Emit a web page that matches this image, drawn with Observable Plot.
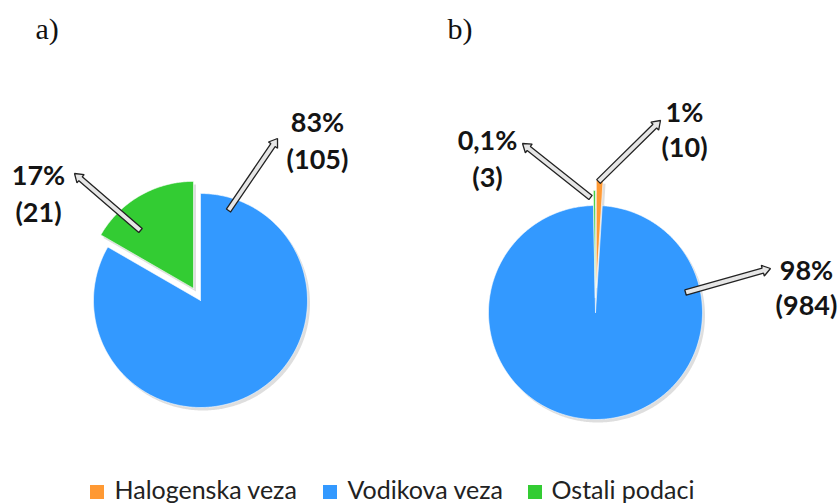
<!DOCTYPE html>
<html>
<head>
<meta charset="utf-8">
<script src="https://cdn.jsdelivr.net/npm/d3@7"></script>
<script src="https://cdn.jsdelivr.net/npm/@observablehq/plot@0.6"></script>
<style>
  html, body { margin: 0; padding: 0; background: #fff; }
  #chart svg { display: block; }
</style>
</head>
<body>
<div id="chart"></div>
<script>
// ---- data ----
const categories = ["Halogenska veza", "Vodikova veza", "Ostali podaci"];
const colors = ["#FF9933", "#3399FF", "#33CC33"];
const panels = ["a)", "b)"];
const countsA = [0, 105, 21];
const countsB = [10, 984, 3];
const pctA = ["", "83%", "17%"];
const pctB = ["1%", "98%", "0,1%"];

// ---- layout (pixels) ----
const W = 840, H = 503;
const R = 107;
const centers = [[200, 300], [595, 312]];
const explode = [[0, 0, 14], [25, 0, 15]];
const titlePos = [[35, 29], [447, 29]];
// label layout per slice: [x, yPct]
const labelPos = [
  [null, [317, 123], [38, 176]],
  [[684, 113], [806, 271], [487, 141]]
];
const countDy = [[0, 37, 37], [35, 35, 37]];
// arrows per slice: [tail, head]
const arrowPos = [
  [null, [[228, 210], [277, 138]], [[140, 230], [74, 173]]],
  [[[598, 181], [660, 120]], [[685, 292], [770, 268]], [[590, 197], [522, 143]]]
];
const legendX = [[90, 114], [323, 347], [528, 551]];
const legendY = 492;

// ---- build slice polygons ----
const pie = d3.pie().sort(null).value(d => d);
const slices = [];
const shadows = [];
[countsA, countsB].forEach((counts, p) => {
  const arcs = pie(counts);
  arcs.forEach((a, i) => {
    if (a.value <= 0) return;
    const mid = (a.startAngle + a.endAngle) / 2;
    const off = explode[p][i];
    const cx = centers[p][0] + off * Math.sin(mid);
    const cy = centers[p][1] - off * Math.cos(mid);
    const id = p + "-" + i;
    const pts = [[cx, cy]];
    const n = Math.max(2, Math.ceil((a.endAngle - a.startAngle) / 0.01));
    for (let k = 0; k <= n; k++) {
      const t = a.startAngle + (a.endAngle - a.startAngle) * k / n;
      pts.push([cx + R * Math.sin(t), cy - R * Math.cos(t)]);
    }
    pts.push([cx, cy]);
    pts.forEach(([x, y]) => {
      slices.push({id, category: categories[i], x, y});
      shadows.push({id, x: x + 2.5, y: y + 3});
    });
  });
});

// ---- label rows ----
const labels = [];
[[countsA, pctA], [countsB, pctB]].forEach(([counts, pct], p) => {
  counts.forEach((c, i) => {
    if (c <= 0) return;
    const [x, y] = labelPos[p][i];
    labels.push({x, y, text: pct[i]});
    labels.push({x, y: y + countDy[p][i], text: "(" + c + ")"});
  });
});

// ---- hollow block arrows ----
const arrows = [];
arrowPos.forEach((row, p) => row.forEach((ar, i) => {
  if (!ar) return;
  const [t, h] = ar;
  const dx = h[0] - t[0], dy = h[1] - t[1], L = Math.hypot(dx, dy);
  const ux = dx / L, uy = dy / L, nx = -uy, ny = ux;
  const w = 2.6, hw = 5.5, hl = 8;
  const bx = h[0] - ux * hl, by = h[1] - uy * hl;
  const pts = [
    [t[0] + nx * w, t[1] + ny * w],
    [bx + nx * w, by + ny * w],
    [bx + nx * hw, by + ny * hw],
    [h[0], h[1]],
    [bx - nx * hw, by - ny * hw],
    [bx - nx * w, by - ny * w],
    [t[0] - nx * w, t[1] - ny * w],
    [t[0] + nx * w, t[1] + ny * w]
  ];
  pts.forEach(([x, y]) => arrows.push({id: p + "-" + i, x, y}));
}));

const titles = panels.map((t, p) => ({text: t, x: titlePos[p][0], y: titlePos[p][1]}));
const legend = categories.map((c, i) => ({category: c, sx: legendX[i][0], tx: legendX[i][1]}));

const chart = Plot.plot({
  width: W,
  height: H,
  margin: 0,
  x: {type: "identity", axis: null},
  y: {type: "identity", axis: null},
  color: {domain: categories, range: colors},
  marks: [
    Plot.line(shadows, {x: "x", y: "y", z: "id", fill: "#000", fillOpacity: 0.13, stroke: "none"}),
    Plot.line(slices, {x: "x", y: "y", z: "id", fill: "category", stroke: "#fff", strokeWidth: 0.6}),
    Plot.line(arrows, {x: "x", y: "y", z: "id", fill: "#e6e6e6", stroke: "#222", strokeWidth: 1.3, strokeLinejoin: "miter"}),
    Plot.text(labels, {x: "x", y: "y", text: "text", fontSize: 27, fontWeight: "bold", fontFamily: "Lato", fill: "#141414"}),
    Plot.text(titles, {x: "x", y: "y", text: "text", fontSize: 30, fontFamily: "Liberation Serif", textAnchor: "start", fill: "#111"}),
    Plot.rect(legend, {x1: "sx", x2: d => d.sx + 14, y1: legendY - 7, y2: legendY + 7, fill: "category"}),
    Plot.text(legend, {x: "tx", y: legendY - 2, text: "category", fontSize: 25, fontFamily: "Lato", textAnchor: "start", fill: "#222"})
  ]
});
document.getElementById("chart").append(chart);
</script>
</body>
</html>
